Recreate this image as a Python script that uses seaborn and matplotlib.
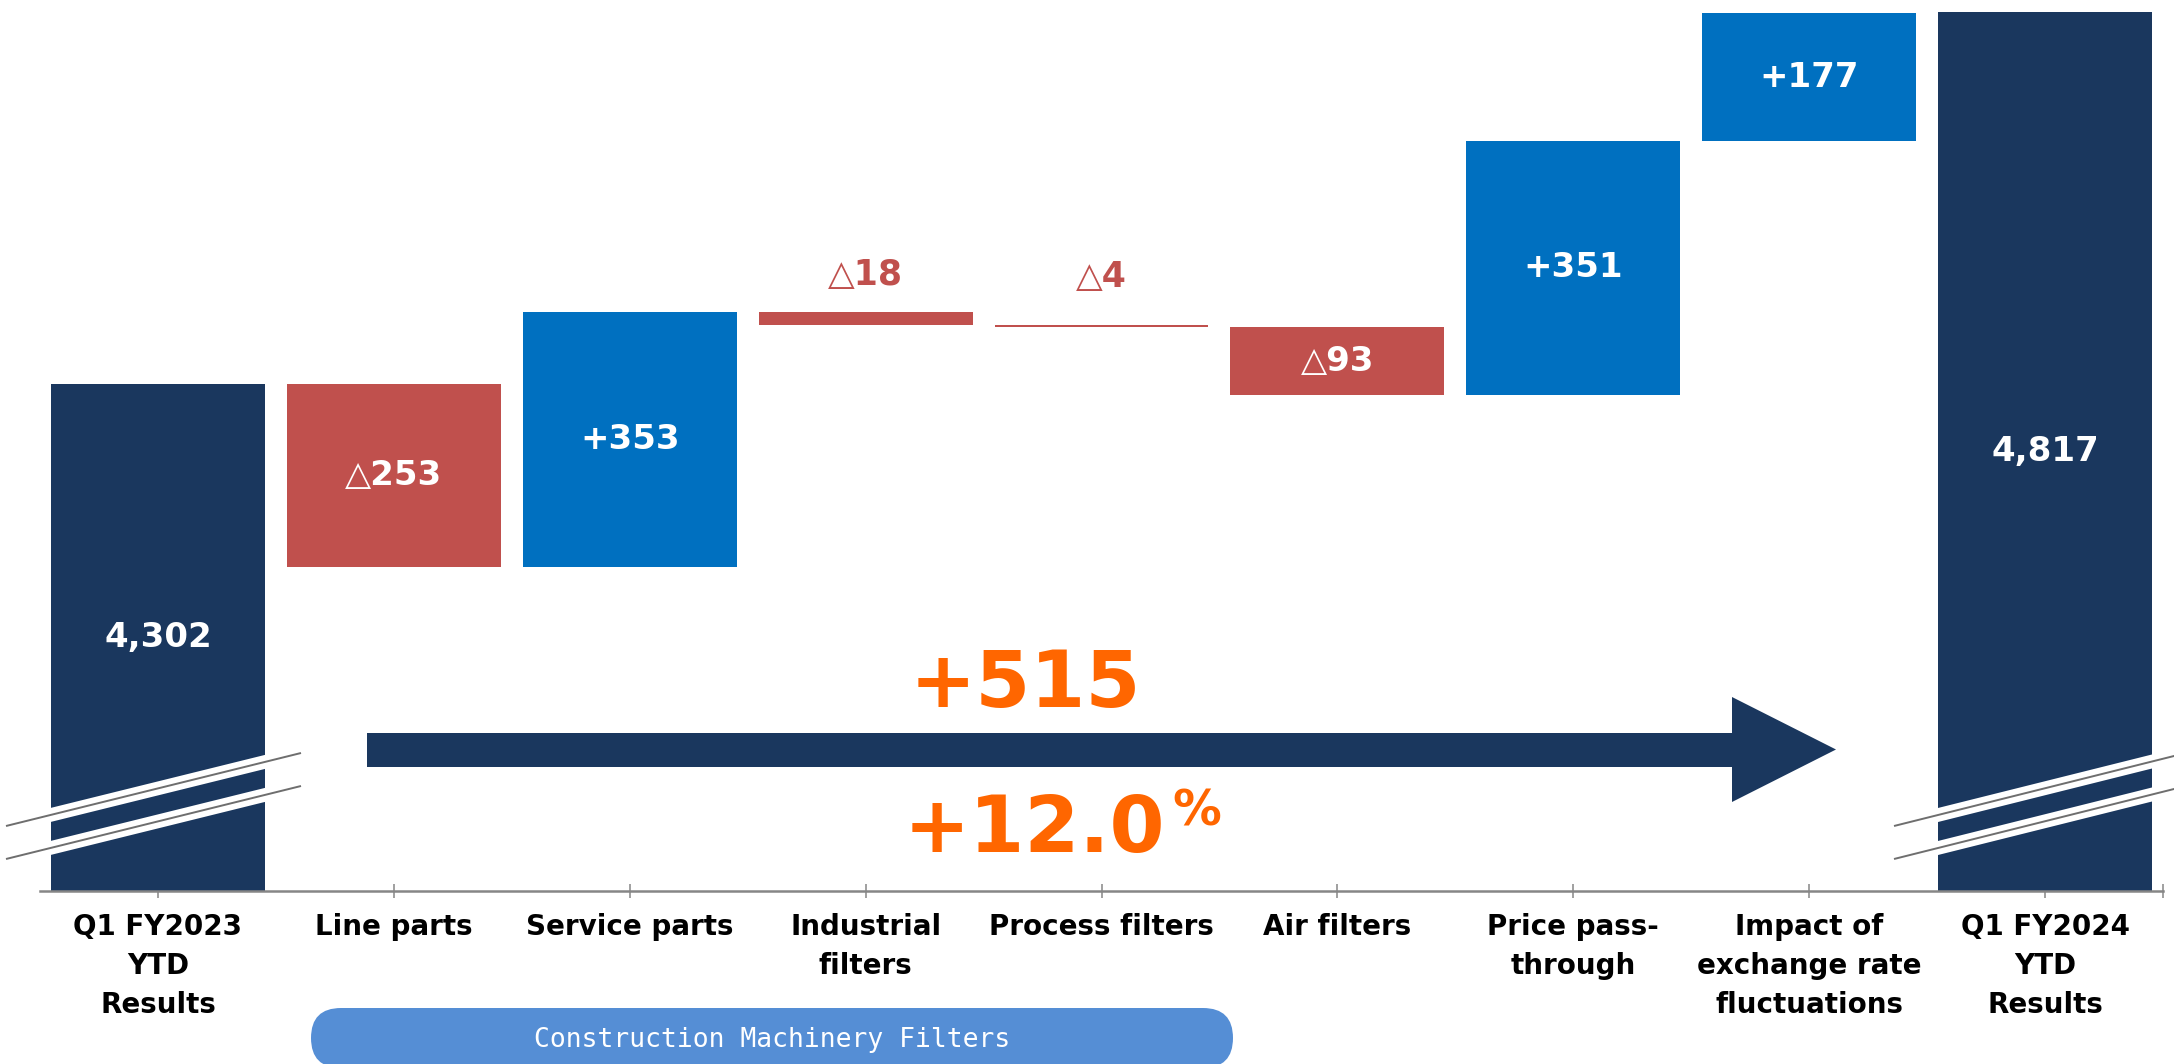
import matplotlib
matplotlib.use("Agg")
import matplotlib.pyplot as plt
import seaborn as sns
import pandas as pd
from matplotlib.lines import Line2D
from matplotlib.patches import Polygon, FancyBboxPatch
from matplotlib.transforms import IdentityTransform

# ---------------- data ----------------
categories = ["Q1 FY2023\nYTD\nResults", "Line parts", "Service parts",
              "Industrial\nfilters", "Process filters", "Air filters",
              "Price pass-\nthrough", "Impact of\nexchange rate\nfluctuations",
              "Q1 FY2024\nYTD\nResults"]
start_value = 4302
changes = [-253, 353, -18, -4, -93, 351, 177]
end_value = 4817
value_labels = ["4,302", "△253", "+353", "△18", "△4", "△93", "+351", "+177", "4,817"]
total_change_label = "+515"
total_change_pct = "+12.0"
pct_sign = "%"
group_label = "Construction Machinery Filters"

# ---------------- style ----------------
NAVY = "#1A375E"
BLUE = "#0070C0"
RED = "#C0504D"
ORANGE = "#FF6600"
GREY = "#868686"
PILL = "#558ED5"

W, H = 2174, 1064
sns.set_theme(style="white")
plt.rcParams['font.family'] = ['DejaVu Sans', 'Noto Sans CJK JP']

# waterfall geometry from the data
bottoms, tops, kinds = [0], [start_value], ["total"]
level = start_value
for c in changes:
    new = level + c
    bottoms.append(min(level, new))
    tops.append(max(level, new))
    kinds.append("up" if c > 0 else "down")
    level = new
bottoms.append(0)
tops.append(end_value)
kinds.append("total")

df = pd.DataFrame({"category": categories, "top": tops, "bottom": bottoms, "kind": kinds})
color_map = {"total": NAVY, "up": BLUE, "down": RED}
palette = [color_map[k] for k in kinds]

fig = plt.figure(figsize=(W / 100, H / 100), dpi=100)
ax_left, ax_right, ax_bottom_px = 40, 2163, 891
ax = fig.add_axes([ax_left / W, (H - ax_bottom_px) / H, (ax_right - ax_left) / W, ax_bottom_px / H])

sns.barplot(data=df, x="category", y="top", hue="category", order=categories,
            hue_order=categories, palette=palette, legend=False, width=0.907,
            saturation=1, ax=ax, linewidth=0, edgecolor="none")
for patch, b, t in zip(ax.patches, bottoms, tops):
    patch.set_y(b)
    patch.set_height(t - b)

ylo = 3600
yhi = ylo + ax_bottom_px / 0.7225
ax.set_ylim(ylo, yhi)
ax.set_xlim(-0.5, 8.5)

ax.set_xticks(list(range(len(categories))) + [8.5])
ax.set_xticklabels(categories + [""])
ax.set_yticks([])
ax.set_xlabel("")
ax.set_ylabel("")
ax.tick_params(axis="x", direction="inout", length=10, width=1.1, color=GREY,
               labelsize=20, pad=11, labelcolor="black", bottom=True)
for lbl in ax.get_xticklabels():
    lbl.set_fontweight("bold")
    lbl.set_linespacing(1.5)
for s in ["left", "top", "right"]:
    ax.spines[s].set_visible(False)
ax.spines["bottom"].set_color(GREY)
ax.spines["bottom"].set_linewidth(1.8)

# value labels
for i, (b, t, lab) in enumerate(zip(bottoms, tops, value_labels)):
    if t - b >= 50:
        vb, vt = max(b, ylo), min(t, yhi)
        ax.text(i, (vb + vt) / 2, lab, ha="center", va="center", color="white",
                fontsize=24.5, fontweight="bold")
    else:
        ax.annotate(lab, xy=(i, b), xytext=(0, 36), textcoords="offset points",
                    ha="center", va="center", color=RED, fontsize=25,
                    fontweight="bold")

# ---------------- overlays (pixel coords) ----------------
def fx(x):
    return x / W

def fy(y):
    return (H - y) / H

def break_mark(x0, y0, x1, y1):
    for dy in (0, 33):
        fig.add_artist(Line2D([fx(x0), fx(x1)], [fy(y0 + dy), fy(y1 + dy)],
                              color="white", lw=9.8, solid_capstyle="butt", zorder=5))
        fig.add_artist(Line2D([fx(x0), fx(x1)], [fy(y0 + dy), fy(y1 + dy)],
                              color="#6E6E6E", lw=1.4, solid_capstyle="butt", zorder=6))

break_mark(6, 826, 301, 753)
break_mark(1894, 826, 2190, 752)

# big arrow
arrow_px = [(367, 733), (1732, 733), (1732, 697), (1836, 749.5),
            (1732, 802), (1732, 767), (367, 767)]
fig.add_artist(Polygon([(fx(x), fy(y)) for x, y in arrow_px], closed=True,
                       facecolor=NAVY, edgecolor="none", zorder=5))

fig.text(fx(1025), fy(707), total_change_label, ha="center", va="baseline",
         fontsize=57, fontweight="bold", color=ORANGE, zorder=7)
fig.text(fx(1034), fy(852), total_change_pct, ha="center", va="baseline",
         fontsize=57, fontweight="bold", color=ORANGE, zorder=7)
fig.text(fx(1172), fy(826), pct_sign, ha="left", va="baseline",
         fontsize=35, fontweight="bold", color=ORANGE, zorder=7)

# group pill
pill = FancyBboxPatch((311, H - 1068), 1233 - 311, 60,
                      boxstyle="round,pad=0,rounding_size=30",
                      transform=IdentityTransform(), facecolor=PILL,
                      edgecolor="none", zorder=5)
fig.add_artist(pill)
fig.text(fx(772), fy(1040), group_label, ha="center", va="center",
         fontsize=19, color="white", family="DejaVu Sans Mono", zorder=7)

fig.savefig("out.png", dpi=100, facecolor="white")
